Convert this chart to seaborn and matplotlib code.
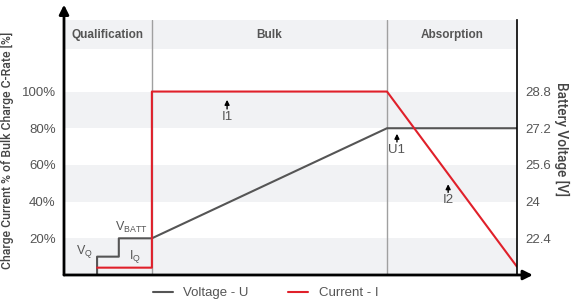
import matplotlib
matplotlib.use("Agg")
import matplotlib.pyplot as plt
import seaborn as sns
import pandas as pd

# charge profile (time in % of full cycle, current in % of bulk C-rate)
volt_t = [0, 7.3, 7.3, 12.1, 12.1, 19.4, 71.3, 100]
volt_v = [0, 0, 10, 10, 20, 20, 80, 80]
curr_t = [7.3, 19.4, 19.4, 71.3, 100]
curr_i = [4, 4, 100, 100, 4.5]

phases = ["Qualification", "Bulk", "Absorption"]
phase_edges = [0, 19.4, 71.3, 100]
left_ticks = [20, 40, 60, 80, 100]
left_labels = ["20%", "40%", "60%", "80%", "100%"]
right_labels = ["22.4", "24", "25.6", "27.2", "28.8"]

volt_df = pd.DataFrame({"t": volt_t, "v": volt_v})
curr_df = pd.DataFrame({"t": curr_t, "v": curr_i})

sns.set_style("white")
plt.rcParams["font.family"] = ["Liberation Sans", "DejaVu Sans"]
plt.rcParams["mathtext.fontset"] = "custom"
plt.rcParams["mathtext.rm"] = "Liberation Sans"

grey = "#555555"
band = "#f1f2f4"

fig = plt.figure(figsize=(5.71, 3.04), dpi=100)
ax = fig.add_axes([64 / 571, 29 / 304, 453 / 571, 255 / 304])
ax.set_xlim(0, 100)
ax.set_ylim(0, 139)

# background stripes
for lo, hi in [(0, 20), (40, 60), (80, 100), (123, 139)]:
    ax.axhspan(lo, hi, color=band, lw=0, zorder=0)
for x in phase_edges[1:3]:
    ax.axvline(x, color="#a0a0a0", lw=1, zorder=1)
for i, name in enumerate(phases):
    ax.text((phase_edges[i] + phase_edges[i + 1]) / 2, 131, name, ha="center", va="center",
            fontsize=8.5, fontweight="bold", color=grey)

sns.lineplot(data=volt_df, x="t", y="v", ax=ax, color="#555555", lw=1.5, sort=False,
             estimator=None, label="Voltage - U")
sns.lineplot(data=curr_df, x="t", y="v", ax=ax, color="#e0202a", lw=1.5, sort=False,
             estimator=None, label="Current - I")

# annotations
ax.text(4.6, 8.2, r"V$_\mathregular{Q}$", ha="center", va="bottom", fontsize=9, color=grey)
ax.text(14.8, 22, r"V$_\mathregular{BATT}$", ha="center", va="bottom", fontsize=9, color=grey)
ax.text(15.7, 5.3, r"I$_\mathregular{Q}$", ha="center", va="bottom", fontsize=9, color=grey)
for x, tip, tail, lab in [(36, 97, 89, "I1"), (73.5, 78.5, 71, "U1"), (84.8, 51, 43.5, "I2")]:
    ax.annotate("", xy=(x, tip), xytext=(x, tail),
                arrowprops=dict(arrowstyle="-|>", color="black", lw=1, mutation_scale=7))
    ax.text(x, tail + 0.5, lab, ha="center", va="top", fontsize=9.5, color=grey)

# axes
ax.set_yticks(left_ticks)
ax.set_yticklabels(left_labels, fontsize=9.5, color=grey)
ax.set_xticks([])
ax.tick_params(axis="y", length=0, pad=6)
ax.set_xlabel("")
ax.set_ylabel("Charge Current % of Bulk Charge C-Rate [%]", fontsize=8.8, color="#444444",
              family=["Roboto", "DejaVu Sans"], fontweight="medium")
ax.yaxis.set_label_coords(-0.11, 0.49)
ax.spines["top"].set_visible(False)
ax.spines["left"].set_visible(False)
ax.spines["bottom"].set_visible(False)
ax.spines["right"].set_color("black")
ax.spines["right"].set_linewidth(1.2)

ax2 = ax.twinx()
ax2.set_ylim(0, 139)
ax2.set_yticks(left_ticks)
ax2.set_yticklabels(right_labels, fontsize=9.5, color=grey)
ax2.tick_params(axis="y", length=0, pad=6)
ax2.set_ylabel("Battery Voltage [V]", fontsize=9.8, color="#444444", rotation=270, va="center",
               family=["Roboto", "DejaVu Sans"], fontweight="medium")
ax2.yaxis.set_label_coords(1.099, 0.533)
for s in ["top", "left", "bottom", "right"]:
    ax2.spines[s].set_visible(False)

# axis arrows
ax.annotate("", xy=(0, 1.06), xytext=(0, 0), xycoords="axes fraction",
            arrowprops=dict(arrowstyle="-|>", color="black", lw=2, mutation_scale=14,
                            shrinkA=0, shrinkB=0), annotation_clip=False)
ax.annotate("", xy=(1.035, 0), xytext=(0, 0), xycoords="axes fraction",
            arrowprops=dict(arrowstyle="-|>", color="black", lw=2, mutation_scale=14,
                            shrinkA=0, shrinkB=0), annotation_clip=False)

handles, labels = ax.get_legend_handles_labels()
ax.get_legend().remove()
fig.legend(handles, labels, loc="center", bbox_to_anchor=(0.465, 0.035), ncol=2, frameon=False,
           fontsize=9.5, handlelength=1.5, columnspacing=3, labelcolor=grey)

fig.savefig("out.png", dpi=100)
